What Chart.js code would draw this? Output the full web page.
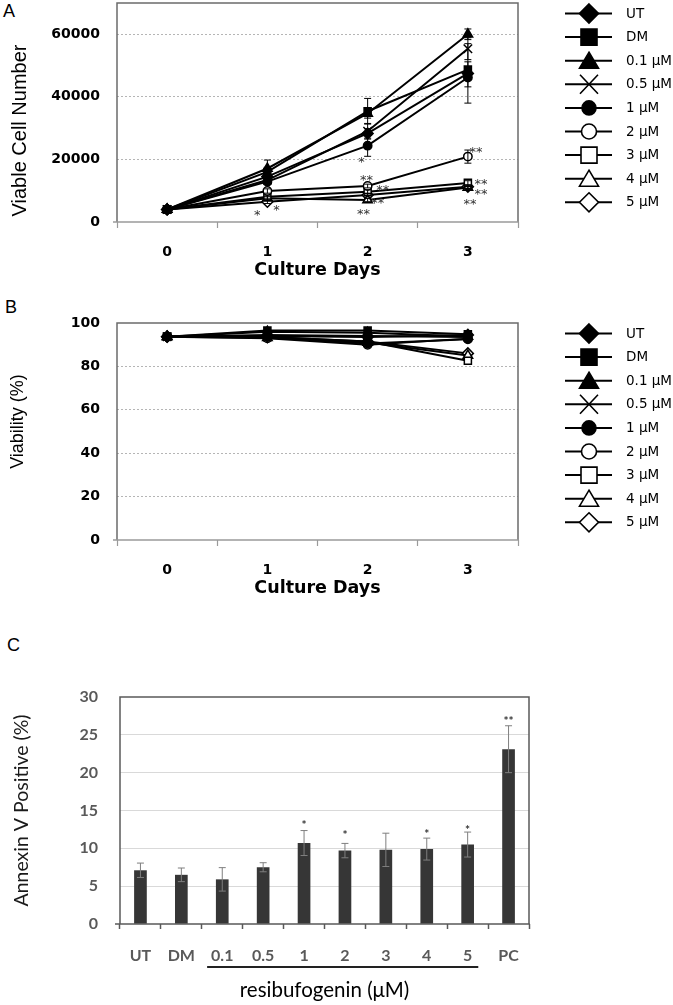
<!DOCTYPE html>
<html>
<head>
<meta charset="utf-8">
<script src="https://cdn.jsdelivr.net/npm/chart.js@4.4.1/dist/chart.umd.min.js"></script>
<style>
html,body{margin:0;padding:0;background:#fff;}
body{width:673px;height:1005px;position:relative;overflow:hidden;}
canvas{position:absolute;left:0;}
.lbl{position:absolute;font-family:"Liberation Sans",Arial,sans-serif;font-size:18px;line-height:18px;color:#000;}
</style>
</head>
<body>
<div class="lbl" style="left:3px;top:2px">A</div>
<div class="lbl" style="left:5px;top:298px">B</div>
<div class="lbl" style="left:7px;top:636px">C</div>
<canvas id="cA" style="top:-25px;width:673px;height:309px" width="673" height="309"></canvas>
<canvas id="cB" style="top:290px;width:673px;height:312px" width="673" height="312"></canvas>
<canvas id="cC" style="top:640px;width:673px;height:365px" width="673" height="365"></canvas>
<script>
// ---------- DATA ----------
const days = ['0', '1', '2', '3'];
const seriesLabels = ['UT', 'DM', '0.1 μM', '0.5 μM', '1 μM', '2 μM', '3 μM', '4 μM', '5 μM'];

// Panel A: viable cell number
const cellUT  = [4000, 14500, 28300, 47500];
const cellDM  = [4000, 16000, 35400, 48700];
const cell01  = [4000, 17100, 34700, 60000];
const cell05  = [4000, 13400, 29000, 55400];
const cell1   = [4000, 12900, 24400, 46200];
const cell2   = [4000, 9900, 11500, 20900];
const cell3   = [4000, 8100, 9700, 12500];
const cell4   = [4000, 7600, 7000, 11000];
const cell5   = [4000, 6500, 8600, 11300];

const cellErrUT = [0, 1200, 1500, 9500];
const cellErrDM = [0, 1500, 4100, 2500];
const cellErr01 = [0, 2700, 1500, 1700];
const cellErr05 = [0, 1000, 2500, 3500];
const cellErr1  = [0, 800, 3400, 3000];
const cellErr2  = [0, 700, 600, 2100];
const cellErr3  = [0, 500, 600, 700];
const cellErr4  = [0, 600, 500, 600];
const cellErr5  = [0, 600, 600, 600];

const cellAxisMax = 70000;
const cellTickValues = [0, 20000, 40000, 60000];

// significance marks of panel A: [day, value, text]
const cellSigDay   = [0.9, 1.09, 1.94, 1.99, 2.15, 2.1, 1.96, 3.08, 3.13, 3.13, 3.02];
const cellSigValue = [3450, 5100, 20400, 14700, 11200, 7300, 3800, 23600, 13400, 10200, 7000];
const cellSigText  = ['*', '*', '*', '**', '**', '**', '**', '**', '**', '**', '**'];

// Panel B: viability (%)
const viabUT = [93.7, 94.0, 93.5, 94.5];
const viabDM = [93.7, 96.5, 96.5, 94.8];
const viab01 = [93.7, 96.0, 95.5, 93.8];
const viab05 = [93.7, 94.5, 94.0, 93.5];
const viab1  = [93.7, 93.5, 90.5, 92.5];
const viab2  = [93.7, 93.0, 90.0, 92.8];
const viab3  = [93.7, 93.5, 91.5, 82.6];
const viab4  = [93.7, 93.2, 91.0, 85.0];
const viab5  = [93.7, 93.5, 91.5, 86.0];
const viabTickValues = [0, 20, 40, 60, 80, 100];

// Panel C: Annexin V positive (%)
const annexCategories = ['UT', 'DM', '0.1', '0.5', '1', '2', '3', '4', '5', 'PC'];
const annexValues = [7.1, 6.5, 5.9, 7.5, 10.7, 9.7, 9.8, 9.9, 10.5, 23.1];
const annexErrors = [0.95, 0.9, 1.55, 0.6, 1.65, 0.95, 2.2, 1.45, 1.65, 3.1];
const annexSigText  = ['', '', '', '', '*', '*', '', '*', '*', '**'];
const annexSigValue = [0, 0, 0, 0, 13.5, 12.1, 0, 12.3, 12.8, 27.2];
const annexGroupFrom = '0.1';
const annexGroupTo = '5';

// ---------- STYLE ----------
const markerStyles = ['rectRot', 'rect', 'triangle', 'crossRot', 'circle', 'circle', 'rect', 'triangle', 'rectRot'];
const markerFilled = [true, true, true, true, true, false, false, false, false];
const markerRadius = {rectRot: 5.5, rect: 5, triangle: 5.5, crossRot: 6, circle: 4.2};

const cellSeries = [cellUT, cellDM, cell01, cell05, cell1, cell2, cell3, cell4, cell5];
const cellErrors = [cellErrUT, cellErrDM, cellErr01, cellErr05, cellErr1, cellErr2, cellErr3, cellErr4, cellErr5];
const viabSeries = [viabUT, viabDM, viab01, viab05, viab1, viab2, viab3, viab4, viab5];

Chart.defaults.font.family = '"DejaVu Sans", sans-serif';
Chart.defaults.color = '#000';
Chart.defaults.animation = false;

function makeDatasets(series) {
  return series.map((d, i) => ({
    label: seriesLabels[i],
    data: d,
    borderColor: '#000',
    borderWidth: 2,
    tension: 0,
    fill: false,
    pointStyle: markerStyles[i],
    pointRadius: markerRadius[markerStyles[i]],
    pointHoverRadius: markerRadius[markerStyles[i]],
    pointBackgroundColor: markerFilled[i] ? '#000' : '#fff',
    pointBorderColor: '#000',
    pointBorderWidth: 1.5
  }));
}

function drawLegendMarker(ctx, style, filled, x, y) {
  ctx.save();
  ctx.lineWidth = 1.6;
  ctx.strokeStyle = '#000';
  ctx.fillStyle = filled ? '#000' : '#fff';
  ctx.beginPath();
  if (style === 'rectRot') {
    ctx.moveTo(x, y - 9.5); ctx.lineTo(x + 9.5, y); ctx.lineTo(x, y + 9.5); ctx.lineTo(x - 9.5, y); ctx.closePath();
    ctx.fill(); ctx.stroke();
  } else if (style === 'rect') {
    ctx.rect(x - 8, y - 8, 16, 16); ctx.fill(); ctx.stroke();
  } else if (style === 'triangle') {
    ctx.moveTo(x, y - 8.5); ctx.lineTo(x + 9.5, y + 7.5); ctx.lineTo(x - 9.5, y + 7.5); ctx.closePath();
    ctx.fill(); ctx.stroke();
  } else if (style === 'crossRot') {
    ctx.moveTo(x - 9, y - 9.5); ctx.lineTo(x + 9, y + 9.5);
    ctx.moveTo(x + 9, y - 9.5); ctx.lineTo(x - 9, y + 9.5);
    ctx.stroke();
  } else {
    ctx.arc(x, y, filled ? 7 : 7.5, 0, Math.PI * 2); ctx.fill(); ctx.stroke();
  }
  ctx.restore();
}

const sideLegend = {
  id: 'sideLegend',
  afterDraw(chart) {
    const {ctx, chartArea: a} = chart;
    ctx.save();
    seriesLabels.forEach((lab, i) => {
      const y = a.top + 10.5 + i * 23.6;
      ctx.strokeStyle = '#000';
      ctx.lineWidth = 2;
      ctx.beginPath(); ctx.moveTo(a.right + 47, y); ctx.lineTo(a.right + 94, y); ctx.stroke();
      drawLegendMarker(ctx, markerStyles[i], markerFilled[i], a.right + 71, y);
      ctx.fillStyle = '#000';
      ctx.font = '13.5px "DejaVu Sans"';
      ctx.textAlign = 'left';
      ctx.textBaseline = 'middle';
      ctx.fillText(lab, a.right + 108, y + 0.5);
    });
    ctx.restore();
  }
};

function boxPlugin(sideColor, bottomColor, width, extendLeft) {
  return {
    id: 'plotBox',
    beforeDatasetsDraw(chart) {
      const {ctx, chartArea: a} = chart;
      ctx.save();
      ctx.lineWidth = width;
      ctx.strokeStyle = sideColor;
      ctx.beginPath();
      ctx.moveTo(a.left, a.bottom); ctx.lineTo(a.left, a.top - width / 2);
      ctx.moveTo(a.left - width / 2, a.top); ctx.lineTo(a.right + width / 2, a.top);
      ctx.moveTo(a.right, a.top); ctx.lineTo(a.right, a.bottom);
      ctx.stroke();
      ctx.strokeStyle = bottomColor;
      ctx.beginPath();
      ctx.moveTo(a.left - extendLeft, a.bottom); ctx.lineTo(a.right + width / 2, a.bottom);
      ctx.stroke();
      ctx.restore();
    }
  };
}

const cellErrorBars = {
  id: 'cellErrorBars',
  afterDatasetsDraw(chart) {
    const {ctx} = chart;
    const ys = chart.scales.y;
    ctx.save();
    ctx.strokeStyle = '#000';
    ctx.lineWidth = 1;
    chart.data.datasets.forEach((ds, i) => {
      const meta = chart.getDatasetMeta(i);
      meta.data.forEach((pt, j) => {
        const e = cellErrors[i][j];
        if (!e) return;
        const yt = ys.getPixelForValue(ds.data[j] + e);
        const yb = ys.getPixelForValue(ds.data[j] - e);
        ctx.beginPath();
        ctx.moveTo(pt.x, yt); ctx.lineTo(pt.x, yb);
        ctx.moveTo(pt.x - 3.5, yt); ctx.lineTo(pt.x + 3.5, yt);
        ctx.moveTo(pt.x - 3.5, yb); ctx.lineTo(pt.x + 3.5, yb);
        ctx.stroke();
      });
    });
    ctx.restore();
  }
};

const cellSigMarks = {
  id: 'cellSigMarks',
  afterDatasetsDraw(chart) {
    const {ctx} = chart;
    const xs = chart.scales.x, ys = chart.scales.y;
    const x0 = xs.getPixelForValue(0), dx = xs.getPixelForValue(1) - x0;
    ctx.save();
    ctx.fillStyle = '#333';
    ctx.font = '13px "DejaVu Sans"';
    ctx.textAlign = 'center';
    ctx.textBaseline = 'alphabetic';
    cellSigText.forEach((t, i) => {
      ctx.fillText(t, x0 + cellSigDay[i] * dx, ys.getPixelForValue(cellSigValue[i]) + 7.5);
    });
    ctx.restore();
  }
};

function lineOptions(yMax, tickValues, yTitle, yTitleSize, yTitleAlign, yTitlePad) {
  return {
    responsive: false,
    devicePixelRatio: 1,
    animation: false,
    events: [],
    layout: {padding: {left: 0, right: 155, top: 0, bottom: 0}},
    plugins: {legend: {display: false}, tooltip: {enabled: false}},
    scales: {
      x: {
        type: 'category',
        offset: true,
        grid: {drawOnChartArea: false, offset: true, drawTicks: true, tickLength: 6, tickColor: '#9a9a9a', tickWidth: 1.2},
        border: {display: false},
        ticks: {font: {family: '"DejaVu Sans"', size: 14, weight: 'bold'}, color: '#000', padding: 16},
        title: {display: true, text: 'Culture Days', font: {family: '"DejaVu Sans"', size: 17.5, weight: 'bold'}, color: '#000', padding: {top: 0, bottom: 3}},
        afterFit(s) { s.height = 62; }
      },
      y: {
        min: 0, max: yMax,
        afterBuildTicks(s) { s.ticks = tickValues.map(v => ({value: v})); },
        ticks: {
          font: {family: '"DejaVu Sans"', size: 14, weight: 'bold'},
          color: '#000',
          padding: 17,
          callback: v => String(v)
        },
        grid: {
          drawTicks: false,
          lineWidth: 1,
          color: c => (c.tick && (c.tick.value === 0 || c.tick.value >= yMax) ? 'rgba(0,0,0,0)' : '#b5b5b5')
        },
        border: {display: false, dash: [2, 2]},
        title: {display: true, text: yTitle, align: yTitleAlign, font: {family: '"Liberation Sans"', size: yTitleSize}, color: '#000', padding: {top: yTitlePad, bottom: 0}},
        afterFit(s) { s.width = 117; }
      }
    }
  };
}

// ---------- CHART A ----------
const optA = lineOptions(cellAxisMax, cellTickValues, '\u00A0Viable Cell Number', 20, 'start', 8.5);
optA.layout.padding.top = 28;
new Chart(document.getElementById('cA'), {
  type: 'line',
  data: {labels: days, datasets: makeDatasets(cellSeries)},
  options: optA,
  plugins: [boxPlugin('#6b6b6b', '#9a9a9a', 1.5, 4), cellErrorBars, cellSigMarks, sideLegend]
});

// ---------- CHART B ----------
const optB = lineOptions(100, viabTickValues, '\u00A0\u00A0\u00A0\u00A0Viability (%)', 18, 'center', 7.2);
optB.layout.padding.top = 33;
new Chart(document.getElementById('cB'), {
  type: 'line',
  data: {labels: days, datasets: makeDatasets(viabSeries)},
  options: optB,
  plugins: [boxPlugin('#6b6b6b', '#9a9a9a', 1.5, 4), sideLegend]
});

// ---------- CHART C ----------
const annexDeco = {
  id: 'annexDeco',
  afterDatasetsDraw(chart) {
    const {ctx} = chart;
    const ys = chart.scales.y;
    const meta = chart.getDatasetMeta(0);
    ctx.save();
    ctx.strokeStyle = '#7f7f7f';
    ctx.lineWidth = 1;
    meta.data.forEach((bar, i) => {
      const yt = ys.getPixelForValue(annexValues[i] + annexErrors[i]);
      const yb = ys.getPixelForValue(annexValues[i] - annexErrors[i]);
      ctx.beginPath();
      ctx.moveTo(bar.x, yt); ctx.lineTo(bar.x, yb);
      ctx.moveTo(bar.x - 3.5, yt); ctx.lineTo(bar.x + 3.5, yt);
      ctx.moveTo(bar.x - 3.5, yb); ctx.lineTo(bar.x + 3.5, yb);
      ctx.stroke();
    });
    ctx.fillStyle = '#333';
    ctx.font = 'bold 12px Lato';
    ctx.textAlign = 'center';
    ctx.textBaseline = 'alphabetic';
    annexSigText.forEach((t, i) => {
      if (!t) return;
      ctx.fillText(t, meta.data[i].x, ys.getPixelForValue(annexSigValue[i]) + 7);
    });
    ctx.restore();
  },
  afterDraw(chart) {
    const {ctx} = chart;
    const xs = chart.scales.x;
    const i0 = annexCategories.indexOf(annexGroupFrom), i1 = annexCategories.indexOf(annexGroupTo);
    const w = xs.getPixelForValue(1) - xs.getPixelForValue(0);
    ctx.save();
    ctx.strokeStyle = '#222';
    ctx.lineWidth = 2;
    ctx.beginPath();
    ctx.moveTo(xs.getPixelForValue(i0) - 0.37 * w, xs.top + 43);
    ctx.lineTo(xs.getPixelForValue(i1) + 0.26 * w, xs.top + 43);
    ctx.stroke();
    ctx.restore();
  }
};

new Chart(document.getElementById('cC'), {
  type: 'bar',
  data: {
    labels: annexCategories,
    datasets: [{data: annexValues, backgroundColor: '#363636', barPercentage: 0.31, categoryPercentage: 1}]
  },
  options: {
    responsive: false,
    devicePixelRatio: 1,
    animation: false,
    events: [],
    layout: {padding: {left: 0, right: 144, top: 57, bottom: 0}},
    plugins: {legend: {display: false}, tooltip: {enabled: false}},
    scales: {
      x: {
        grid: {drawOnChartArea: false, offset: true, drawTicks: true, tickLength: 5, tickColor: '#595959', tickWidth: 1.5},
        border: {display: false},
        ticks: {font: {family: 'Lato', size: 16, weight: 'bold'}, color: '#595959', padding: 17},
        title: {display: true, text: 'resibufogenin (μM)', font: {family: 'Lato', size: 20.5}, color: '#000', padding: {top: 0, bottom: 2.7}},
        afterFit(s) { s.height = 81; }
      },
      y: {
        min: 0, max: 30,
        ticks: {stepSize: 5, font: {family: 'Lato', size: 16, weight: 'bold'}, color: '#595959', padding: 22},
        grid: {drawTicks: false, lineWidth: 1, color: c => (c.tick && (c.tick.value === 0 || c.tick.value === 30) ? 'rgba(0,0,0,0)' : '#d9d9d9')},
        border: {display: false},
        title: {display: true, text: 'Annexin V Positive (%)', font: {family: 'Lato', size: 19.5}, color: '#1a1a1a', padding: {top: 9.8, bottom: 0}},
        afterFit(s) { s.width = 120; }
      }
    }
  },
  plugins: [boxPlugin('#595959', '#595959', 1.5, 5), annexDeco]
});
</script>
</body>
</html>
